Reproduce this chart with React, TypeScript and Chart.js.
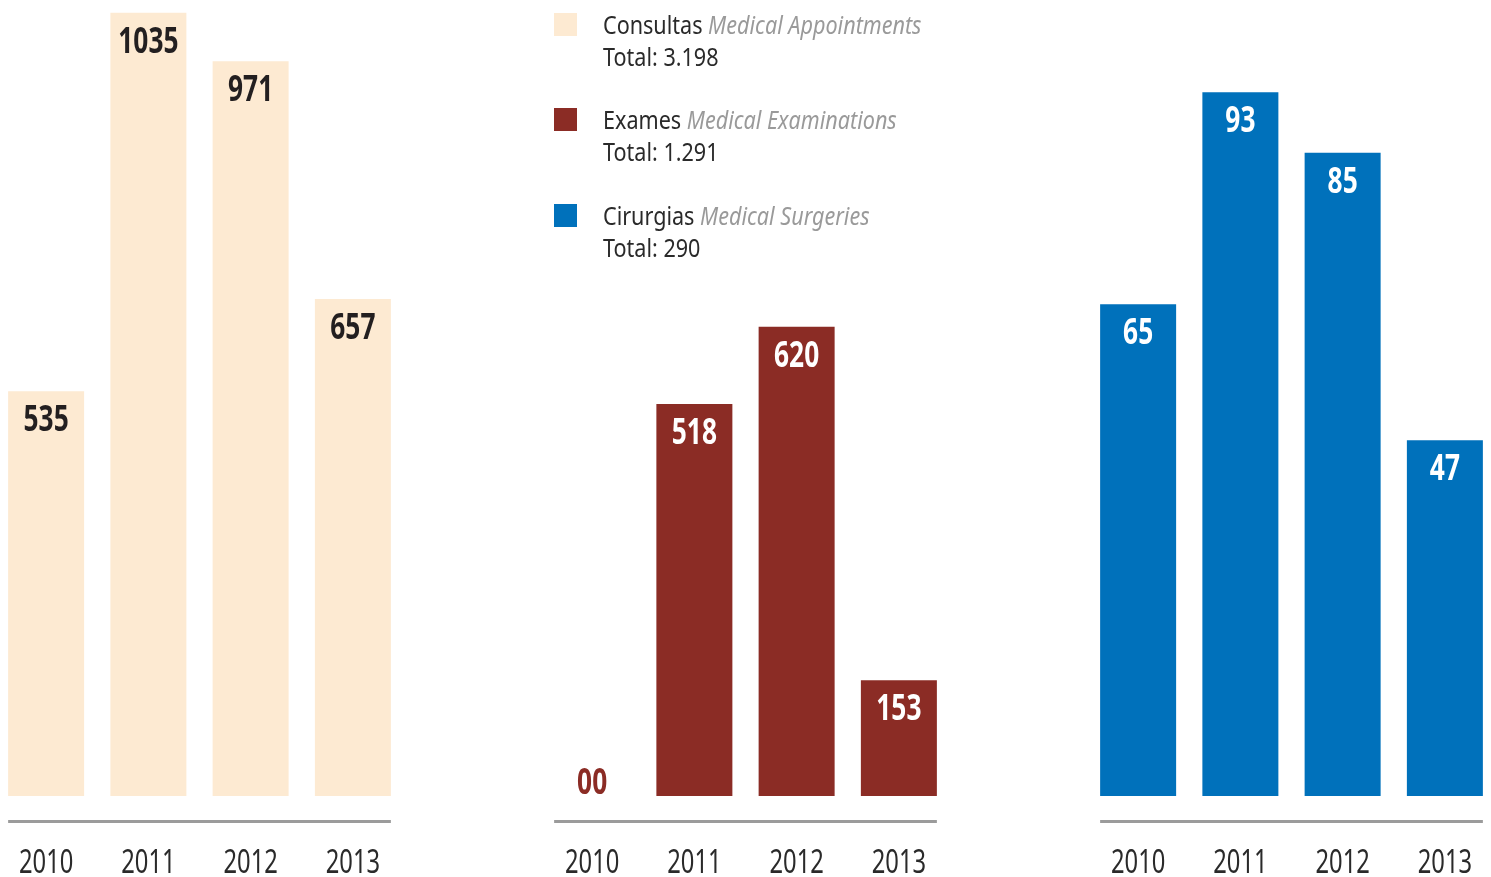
import React, { useEffect, useRef } from "react";
import { Chart, registerables } from "chart.js";

Chart.register(...registerables);

const years = ["2010", "2011", "2012", "2013"];
const consultas = [535, 1035, 971, 657];
const exames = [0, 518, 620, 153];
const cirurgias = [65, 93, 85, 47];
const consultasLabels = ["535", "1035", "971", "657"];
const examesLabels = ["00", "518", "620", "153"];
const cirurgiasLabels = ["65", "93", "85", "47"];

const FONT = '"Noto Sans", "DejaVu Sans Condensed", sans-serif';

const legendItems = [
  { pt: "Consultas", en: "Medical Appointments", total: "Total: 3.198", color: "#FDEAD2" },
  { pt: "Exames", en: "Medical Examinations", total: "Total: 1.291", color: "#8B2C25" },
  { pt: "Cirurgias", en: "Medical Surgeries", total: "Total: 290", color: "#0071BB" },
];

type PanelProps = {
  values: number[];
  labels: string[];
  color: string;
  labelColor: string;
  max: number;
  left: number;
};

function drawNarrow(ctx: CanvasRenderingContext2D, text: string, x: number, y: number, sx: number) {
  ctx.save();
  ctx.translate(x, y);
  ctx.scale(sx, 1);
  ctx.fillText(text, 0, 0);
  ctx.restore();
}

const overlayPlugin = {
  id: "overlay",
  afterDatasetsDraw(chart: any, _args: any, opts: any) {
    const ctx = chart.ctx;
    const meta = chart.getDatasetMeta(0);
    const bars = meta.data;
    const base = chart.chartArea.bottom;
    ctx.save();
    // baseline rule under the bars
    const first = bars[0];
    const last = bars[bars.length - 1];
    ctx.strokeStyle = "#9b9b9b";
    ctx.lineWidth = 3;
    ctx.beginPath();
    ctx.moveTo(first.x - first.width / 2, base + 25.5);
    ctx.lineTo(last.x + last.width / 2, base + 25.5);
    ctx.stroke();
    // value labels
    ctx.font = "bold 36px " + FONT;
    ctx.textAlign = "center";
    ctx.textBaseline = "alphabetic";
    const vals = chart.data.datasets[0].data;
    bars.forEach((bar: any, i: number) => {
      const text = opts.labels[i];
      if (vals[i] > 0) {
        ctx.fillStyle = opts.labelColor;
        drawNarrow(ctx, text, bar.x, bar.y + 40, 0.73);
      } else {
        ctx.fillStyle = opts.barColor;
        drawNarrow(ctx, text, bar.x, base - 2, 0.73);
      }
    });
    // category (year) labels from the x scale
    const xs = chart.scales.x;
    ctx.font = "400 33px " + FONT;
    ctx.fillStyle = "#2a2a2a";
    xs.ticks.forEach((t: any, i: number) => {
      const px = xs.getPixelForTick(i);
      const label = String(xs.getLabelForValue(t.value));
      drawNarrow(ctx, label, px, base + 77, 0.72);
    });
    ctx.restore();
  },
};

function Panel({ values, labels, color, labelColor, max, left }: PanelProps) {
  const ref = useRef<HTMLCanvasElement | null>(null);
  useEffect(() => {
    if (!ref.current) return;
    const chart = new Chart(ref.current, {
      type: "bar",
      data: {
        labels: years,
        datasets: [
          {
            data: values,
            backgroundColor: color,
            borderWidth: 0,
            barPercentage: 76 / 102.25,
            categoryPercentage: 1,
          },
        ],
      },
      options: {
        responsive: false,
        animation: false,
        layout: { padding: 0 },
        plugins: {
          legend: { display: false },
          tooltip: { enabled: false },
          overlay: { labels, labelColor, barColor: color },
        } as any,
        scales: {
          y: { display: false, min: 0, max },
          x: {
            grid: { display: false, drawTicks: false },
            border: { display: false },
            ticks: { display: false },
            afterFit: (scale: any) => {
              scale.height = 81;
              scale.paddingLeft = 0;
              scale.paddingRight = 0;
            },
          },
        },
      },
      plugins: [overlayPlugin],
    });
    return () => chart.destroy();
  }, []);
  return (
    <canvas
      ref={ref}
      width={409}
      height={877}
      style={{ position: "absolute", left, top: 0, width: 409, height: 877 }}
    />
  );
}

export default function App() {
  return (
    <div
      style={{
        position: "fixed",
        left: 0,
        top: 0,
        width: 1491,
        height: 877,
        background: "#ffffff",
        overflow: "hidden",
      }}
    >
      <Panel values={consultas} labels={consultasLabels} color="#FDEAD2" labelColor="#231F20" max={1052} left={-5} />
      <Panel values={exames} labels={examesLabels} color="#8B2C25" labelColor="#ffffff" max={1052} left={541} />
      <Panel values={cirurgias} labels={cirurgiasLabels} color="#0071BB" labelColor="#ffffff" max={105.2} left={1087} />
      {legendItems.map((it, i) => (
        <div key={i} style={{ position: "absolute", left: 554, top: [13, 108, 204][i] }}>
          <div style={{ position: "absolute", left: 0, top: 0, width: 23, height: 23, background: it.color }} />
          <div
            style={{
              position: "absolute",
              left: 49,
              top: -5,
              whiteSpace: "nowrap",
              fontFamily: FONT,
              fontWeight: 400,
              fontSize: 26,
              lineHeight: "32px",
              color: "#2a2a2a",
              transform: "scaleX(0.83)",
              transformOrigin: "0 0",
            }}
          >
            <div>
              {it.pt} <span style={{ fontStyle: "italic", color: "#9a9a9a" }}>{it.en}</span>
            </div>
            <div>{it.total}</div>
          </div>
        </div>
      ))}
    </div>
  );
}
